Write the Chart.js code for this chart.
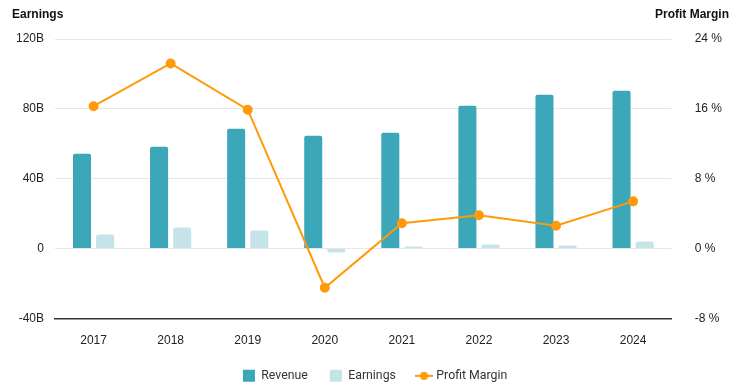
<!DOCTYPE html>
<html>
<head>
<meta charset="utf-8">
<script src="https://cdn.jsdelivr.net/npm/chart.js@4"></script>
<style>
  html, body { margin: 0; padding: 0; background: #fff; }
  #wrap { width: 743px; height: 386px; position: relative; }
</style>
</head>
<body>
<div id="wrap"><canvas id="chart-earnings"></canvas></div>
<script>
const years = ['2017', '2018', '2019', '2020', '2021', '2022', '2023', '2024'];
const revenue = [54.3, 58.3, 68.6, 64.6, 66.3, 81.7, 88.0, 90.3];
const earnings = [8.0, 12.0, 10.3, -2.3, 1.1, 2.3, 1.7, 4.0];
const profitMargin = [16.3, 21.2, 15.9, -4.5, 2.9, 3.8, 2.6, 5.4];
const leftTicks = [-40, 0, 40, 80, 120];
const rightTicks = [-8, 0, 8, 16, 24];

const tealColor = '#3BA7B9';
const paleColor = '#C4E4EA';
const orangeColor = '#FF9A0A';

// legend marker for the line series: short line with a dot
function lineMarker() {
    const c = document.createElement('canvas');
    c.width = 18; c.height = 10;
    const g = c.getContext('2d');
    g.strokeStyle = orangeColor;
    g.lineWidth = 2;
    g.beginPath(); g.moveTo(0, 5); g.lineTo(18, 5); g.stroke();
    g.fillStyle = orangeColor;
    g.beginPath(); g.arc(9, 5, 4, 0, Math.PI * 2); g.fill();
    return c;
}

// the two axis headers at the top corners
const axisHeaders = {
    id: 'axisHeaders',
    afterDraw(chart) {
        const ctx = chart.ctx;
        ctx.save();
        ctx.font = "bold 12px 'Liberation Sans', Arial, sans-serif";
        ctx.fillStyle = '#111';
        ctx.textBaseline = 'middle';
        ctx.textAlign = 'left';
        ctx.fillText('Earnings', 12, 15);
        ctx.textAlign = 'right';
        ctx.fillText('Profit Margin', 729, 15);
        ctx.restore();
    }
};

// legend sits tight under the x labels
const tightLegend = {
    id: 'tightLegend',
    afterInit(chart) {
        const lg = chart.legend;
        if (!lg) return;
        const origFit = lg.fit;
        lg.fit = function () {
            origFit.call(this);
            this.height -= 21;
        };
    },
    beforeDraw(chart) {
        const lg = chart.legend;
        if (!lg || lg._shifted) return;
        lg.top -= 15;
        lg._shifted = true;
    }
};

const marker = lineMarker();

new Chart(document.getElementById('chart-earnings').getContext('2d'), {
    type: 'bar',
    data: {
        labels: years,
        datasets: [{
            label: 'Revenue',
            data: revenue,
            backgroundColor: tealColor,
            yAxisID: 'y',
            borderRadius: 2,
            categoryPercentage: 0.6,
            barPercentage: 0.78,
            order: 2
        }, {
            label: 'Earnings',
            data: earnings,
            backgroundColor: paleColor,
            yAxisID: 'y',
            borderRadius: 2,
            categoryPercentage: 0.6,
            barPercentage: 0.78,
            order: 2
        }, {
            type: 'line',
            label: 'Profit Margin',
            data: profitMargin,
            borderColor: orangeColor,
            backgroundColor: orangeColor,
            borderWidth: 2,
            pointRadius: 4,
            pointHoverRadius: 4,
            tension: 0,
            yAxisID: 'y1',
            order: 1
        }]
    },
    options: {
        responsive: true,
        maintainAspectRatio: false,
        animation: false,
        layout: { padding: { top: 39, left: 5, right: -2, bottom: 0 } },
        plugins: {
            tooltip: { enabled: false },
            legend: {
                position: 'bottom',
                labels: {
                    usePointStyle: true,
                    boxHeight: 12,
                    padding: 22,
                    color: '#333',
                    font: { family: 'Roboto', size: 12.3 },
                    generateLabels(chart) {
                        const items = Chart.defaults.plugins.legend.labels.generateLabels(chart);
                        items.forEach(it => {
                            if (it.datasetIndex === 2) {
                                it.pointStyle = marker;
                            } else {
                                it.pointStyle = 'rect';
                                it.lineWidth = 0;
                            }
                        });
                        return items.sort((a, b) => a.datasetIndex - b.datasetIndex);
                    }
                }
            }
        },
        scales: {
            x: {
                grid: { display: false, drawTicks: false },
                border: { color: '#333', width: 1.5 },
                ticks: {
                    color: '#222',
                    padding: 15,
                    font: { family: "'Liberation Sans', Arial, sans-serif", size: 12 }
                }
            },
            y: {
                position: 'left',
                min: leftTicks[0],
                max: leftTicks[leftTicks.length - 1],
                afterBuildTicks(axis) { axis.ticks = leftTicks.map(v => ({ value: v })); },
                grid: { color: '#e6e6e6', drawTicks: false },
                border: { display: false },
                ticks: {
                    color: '#222',
                    padding: 11,
                    font: { family: "'Liberation Sans', Arial, sans-serif", size: 12 },
                    callback: v => v === 0 ? '0' : v + 'B'
                }
            },
            y1: {
                position: 'right',
                min: rightTicks[0],
                max: rightTicks[rightTicks.length - 1],
                afterBuildTicks(axis) { axis.ticks = rightTicks.map(v => ({ value: v })); },
                grid: { display: false, drawTicks: false },
                border: { display: false },
                ticks: {
                    color: '#222',
                    padding: 23,
                    font: { family: "'Liberation Sans', Arial, sans-serif", size: 12 },
                    callback: v => v + ' %'
                }
            }
        }
    },
    plugins: [axisHeaders, tightLegend]
});
</script>
</body>
</html>
